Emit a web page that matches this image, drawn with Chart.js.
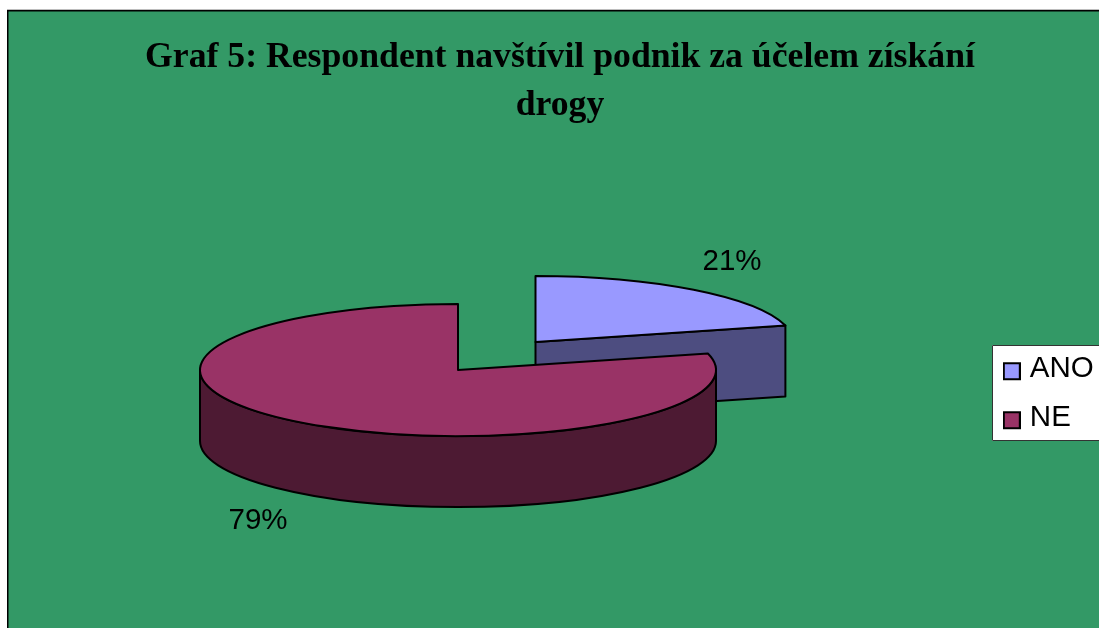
<!DOCTYPE html>
<html>
<head>
<meta charset="utf-8">
<title>Graf 5</title>
<script src="https://cdn.jsdelivr.net/npm/chart.js@4/dist/chart.umd.js"></script>
<style>
  html, body { margin: 0; padding: 0; background: #fff; overflow: hidden; }
  canvas { display: block; }
</style>
</head>
<body>
<canvas id="graf" width="1099" height="628"></canvas>
<script>
// Survey answers, in percent
const categories = ['ANO', 'NE'];
const shares = [21, 79];
const titleLines = ['Graf 5: Respondent navštívil podnik za účelem získání', 'drogy'];

const topColors = ['#9999FF', '#993366'];
const wallColors = ['#4D4D80', '#4D1A33'];
const labelCentres = [[732, 262], [258, 521]];

// Tilted pie geometry
const PIE_X = 458, PIE_Y = 370;
const PIE_RADIUS = 258;
const TILT = 0.256;
const DEPTH = 71;
const EXPLODE = [[77.5, -28], [0, 0]];
const OUTLINE = 2;

// Flattens the pie and extrudes the side walls around the arcs Chart.js lays out
const tiltedPie = {
  id: 'tiltedPie',
  afterDatasetsUpdate(chart) {
    chart.getDatasetMeta(0).data.forEach((arc, i) => {
      arc.baseX = arc.x;
      arc.baseY = arc.y;
      arc.x += EXPLODE[i][0];
      arc.y += EXPLODE[i][1] / TILT;
    });
  },
  screen(arc) {
    return {
      x: PIE_X + arc.x - arc.baseX,
      y: PIE_Y + (arc.y - arc.baseY) * TILT,
      rx: arc.outerRadius,
      ry: arc.outerRadius * TILT
    };
  },
  beforeDatasetsDraw(chart) {
    const ctx = chart.ctx;
    const [yes, no] = chart.getDatasetMeta(0).data;
    ctx.save();
    ctx.lineWidth = OUTLINE;
    ctx.lineJoin = 'round';
    ctx.strokeStyle = '#000';

    // Cut face of the pulled-out slice
    const a = this.screen(yes);
    const ex = a.x + a.rx * Math.cos(yes.endAngle);
    const ey = a.y + a.ry * Math.sin(yes.endAngle);
    ctx.beginPath();
    ctx.moveTo(a.x, a.y);
    ctx.lineTo(ex, ey);
    ctx.lineTo(ex, ey + DEPTH);
    ctx.lineTo(a.x, a.y + DEPTH);
    ctx.closePath();
    ctx.fillStyle = wallColors[0];
    ctx.fill();
    ctx.stroke();

    // Front wall of the large slice
    const b = this.screen(no);
    ctx.beginPath();
    ctx.ellipse(b.x, b.y, b.rx, b.ry, 0, 0, Math.PI);
    ctx.lineTo(b.x - b.rx, b.y + DEPTH);
    ctx.ellipse(b.x, b.y + DEPTH, b.rx, b.ry, 0, Math.PI, 0, true);
    ctx.closePath();
    ctx.fillStyle = wallColors[1];
    ctx.fill();
    ctx.stroke();
    ctx.restore();

    // The arcs themselves are drawn by the library under this transform
    ctx.save();
    ctx.translate(PIE_X, PIE_Y);
    ctx.scale(1, TILT);
    ctx.translate(-no.baseX, -no.baseY);
  },
  afterDatasetsDraw(chart) {
    const ctx = chart.ctx;
    ctx.restore();
    ctx.save();
    ctx.lineWidth = OUTLINE;
    ctx.lineJoin = 'round';
    ctx.strokeStyle = '#000';
    chart.getDatasetMeta(0).data.forEach(arc => {
      const s = this.screen(arc);
      ctx.beginPath();
      ctx.moveTo(s.x, s.y);
      ctx.ellipse(s.x, s.y, s.rx, s.ry, 0, arc.startAngle, arc.endAngle);
      ctx.closePath();
      ctx.stroke();
    });
    ctx.restore();
  }
};

// Plot background, legend frame and percent labels
const frameAndLabels = {
  id: 'frameAndLabels',
  beforeDraw(chart) {
    const ctx = chart.ctx;
    ctx.save();
    ctx.fillStyle = '#339966';
    ctx.fillRect(7, 10, 1092, 618);
    ctx.strokeStyle = '#bdbdbd';
    ctx.lineWidth = 1;
    ctx.beginPath();
    ctx.moveTo(7, 9.5);
    ctx.lineTo(1099, 9.5);
    ctx.stroke();
    ctx.strokeStyle = '#000';
    ctx.lineWidth = 1.5;
    ctx.beginPath();
    ctx.moveTo(7.75, 628);
    ctx.lineTo(7.75, 10.75);
    ctx.lineTo(1099, 10.75);
    ctx.stroke();
    ctx.fillStyle = '#fff';
    ctx.fillRect(992, 345, 107, 96);
    ctx.strokeStyle = '#333';
    ctx.lineWidth = 1;
    ctx.beginPath();
    ctx.moveTo(1099, 345.5);
    ctx.lineTo(992.5, 345.5);
    ctx.lineTo(992.5, 440.5);
    ctx.lineTo(1099, 440.5);
    ctx.stroke();
    ctx.restore();
  },
  afterLayout(chart) {
    const legend = chart.legend;
    legend.left = 989;
    legend.right = 1110;
    legend.top = 334.5;
    legend.bottom = 460;
  },
  afterDraw(chart) {
    const ctx = chart.ctx;
    const total = shares.reduce((sum, v) => sum + v, 0);
    ctx.save();
    ctx.font = '29.5px "Liberation Sans"';
    ctx.fillStyle = '#000';
    ctx.textAlign = 'center';
    ctx.textBaseline = 'middle';
    shares.forEach((v, i) => {
      ctx.fillText(Math.round(v / total * 100) + '%', labelCentres[i][0], labelCentres[i][1]);
    });
    ctx.restore();
  }
};

// Legend swatch: a bordered square sitting slightly below the text's middle
function swatch(color) {
  const c = document.createElement('canvas');
  c.width = 18;
  c.height = 25;
  const g = c.getContext('2d');
  g.fillStyle = color;
  g.fillRect(1, 7, 16, 16);
  g.strokeStyle = '#000';
  g.lineWidth = 2;
  g.strokeRect(1, 7, 16, 16);
  return c;
}

const defaultLabels = Chart.overrides.pie.plugins.legend.labels.generateLabels;

new Chart(document.getElementById('graf'), {
  type: 'pie',
  data: {
    labels: categories,
    datasets: [{
      data: shares,
      backgroundColor: topColors,
      borderWidth: 0,
      clip: false
    }]
  },
  options: {
    responsive: false,
    animation: false,
    events: [],
    radius: PIE_RADIUS,
    layout: { padding: { left: 21 } },
    plugins: {
      title: {
        display: true,
        text: titleLines,
        color: '#000',
        font: { family: '"Liberation Serif"', size: 35.7, weight: 'bold', lineHeight: 1.345 },
        padding: { top: 34, bottom: 0 }
      },
      legend: {
        position: 'right',
        align: 'start',
        labels: {
          color: '#000',
          font: { family: '"Liberation Sans"', size: 29.5 },
          usePointStyle: true,
          pointStyleWidth: 6.6,
          boxHeight: 16,
          padding: 19.5,
          generateLabels(chart) {
            return defaultLabels(chart).map((item, i) => ({
              ...item,
              pointStyle: swatch(topColors[i])
            }));
          }
        }
      },
      tooltip: { enabled: false }
    }
  },
  plugins: [frameAndLabels, tiltedPie]
});
</script>
</body>
</html>
